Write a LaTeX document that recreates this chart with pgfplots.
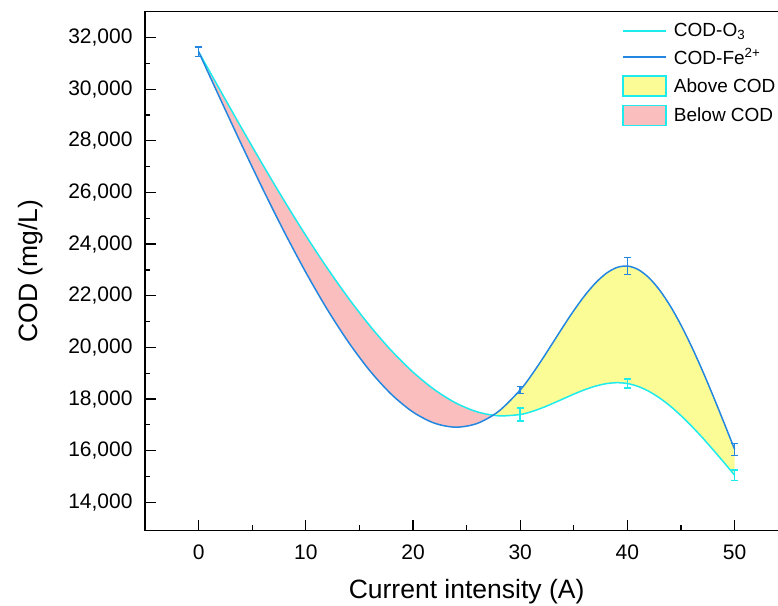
\documentclass[border=0pt]{standalone}
\usepackage{fontspec}
\setmainfont{Liberation Sans}
\usepackage{pgfplots}
\pgfplotsset{compat=1.18}
\usepgfplotslibrary{fillbetween}
\definecolor{o3col}{RGB}{30,235,235}
\definecolor{fecol}{RGB}{35,135,225}
\definecolor{pinkfill}{RGB}{250,190,190}
\definecolor{yellowfill}{RGB}{252,252,150}
\begin{document}
\begin{tikzpicture}
\begin{axis}[
  scale only axis, width=643.2bp, height=519bp,
  xmin=-5, xmax=55, ymin=12900, ymax=33000,
  xtick={0,10,20,30,40,50},
  ytick={14000,16000,18000,20000,22000,24000,26000,28000,30000,32000},
  minor x tick num=1, minor y tick num=1,
  tick align=inside, xtick pos=left, ytick pos=left,
  major tick length=10.7bp, minor tick length=5.3bp,
  axis line style={line width=1.2bp},
  every tick/.style={black, line width=1.2bp},
  scaled y ticks=false,
  /pgf/number format/assume math mode=true,
  yticklabel style={/pgf/number format/1000 sep={,}, inner sep=0pt, anchor=east, xshift=-12.3bp},
  xticklabel style={anchor=base, inner sep=0pt, yshift=-29bp},
  tick label style={font=\fontsize{21bp}{25bp}\selectfont},
  xlabel={Current intensity (A)},
  ylabel={COD (mg/L)},
  every axis x label/.style={at={(axis description cs:0.5,0)}, anchor=base, yshift=-67.8bp,
    font=\fontsize{26.5bp}{32bp}\selectfont},
  every axis y label/.style={at={(axis description cs:-0.1679,0.5)}, rotate=90, anchor=base,
    font=\fontsize{26.5bp}{32bp}\selectfont},
  legend style={at={(0.7416,0.98)}, anchor=north west, draw=none, fill=none,
    inner sep=0pt, column sep=6bp, row sep=8bp,
    font=\fontsize{19bp}{23bp}\selectfont, nodes={inner sep=1bp}},
  legend cell align=left,
]
% hidden paths for the fills
\addplot[draw=none, name path=o3, forget plot, smooth] coordinates {
(0,31450) (2,29968) (4,28501) (6,27064) (8,25670) (10,24334) (12,23071) (14,21896)
(16,20823) (18,19867) (20,19042) (22,18364) (24,17845) (26,17502) (28,17349) (30,17400)
(31,17504) (32,17649) (33,17821) (34,18005) (35,18189) (36,18357) (37,18496) (38,18593) (39,18632) (40,18600)
(41,18487) (42,18298) (43,18040) (44,17724) (45,17356) (46,16946) (47,16502) (48,16032) (49,15545) (50,15050)};
\addplot[draw=none, name path=fe, forget plot, smooth] coordinates {
(0,31450) (2,29641) (4,27857) (6,26123) (8,24464) (10,22906) (12,21472) (14,20190)
(16,19082) (18,18175) (20,17494) (22,17064) (24,16909) (26,17055) (28,17527) (30,18350)
(31,18895) (32,19505) (33,20150) (34,20800) (35,21425) (36,21996) (37,22484) (38,22859) (39,23091) (40,23150)
(41,23016) (42,22700) (43,22222) (44,21603) (45,20863) (46,20021) (47,19099) (48,18116) (49,17093) (50,16050)};
\addplot[fill=pinkfill, draw=none, forget plot] fill between[of=fe and o3, soft clip={domain=-1:27.43}];
\addplot[fill=yellowfill, draw=none, forget plot] fill between[of=fe and o3, soft clip={domain=27.43:51}];
% visible curves
\addplot[draw=o3col, line width=1.5bp, smooth, forget plot] coordinates {
(0,31450) (2,29968) (4,28501) (6,27064) (8,25670) (10,24334) (12,23071) (14,21896)
(16,20823) (18,19867) (20,19042) (22,18364) (24,17845) (26,17502) (28,17349) (30,17400)
(31,17504) (32,17649) (33,17821) (34,18005) (35,18189) (36,18357) (37,18496) (38,18593) (39,18632) (40,18600)
(41,18487) (42,18298) (43,18040) (44,17724) (45,17356) (46,16946) (47,16502) (48,16032) (49,15545) (50,15050)};
\addplot[draw=fecol, line width=1.5bp, smooth, forget plot] coordinates {
(0,31450) (2,29641) (4,27857) (6,26123) (8,24464) (10,22906) (12,21472) (14,20190)
(16,19082) (18,18175) (20,17494) (22,17064) (24,16909) (26,17055) (28,17527) (30,18350)
(31,18895) (32,19505) (33,20150) (34,20800) (35,21425) (36,21996) (37,22484) (38,22859) (39,23091) (40,23150)
(41,23016) (42,22700) (43,22222) (44,21603) (45,20863) (46,20021) (47,19099) (48,18116) (49,17093) (50,16050)};
% error bars
\addplot[draw=none, no markers, forget plot,
  error bars/.cd, y dir=both, y explicit,
  error bar style={draw=o3col, line width=1.5bp},
  error mark options={draw=o3col, rotate=90, mark size=3.5bp, line width=1.5bp}]
  coordinates {(0,31450) +- (0,190) (30,17400) +- (0,260) (40,18600) +- (0,180) (50,15050) +- (0,200)};
\addplot[draw=none, no markers, forget plot,
  error bars/.cd, y dir=both, y explicit,
  error bar style={draw=fecol, line width=1.5bp},
  error mark options={draw=fecol, rotate=90, mark size=3.5bp, line width=1.5bp}]
  coordinates {(0,31450) +- (0,190) (30,18350) +- (0,140) (40,23150) +- (0,330) (50,16050) +- (0,230)};
% legend
\addlegendimage{legend image code/.code={\draw[o3col, line width=1.8bp] (0bp,0bp) -- (43bp,0bp);}}
\addlegendentry{COD-O\textsubscript{3}}
\addlegendimage{legend image code/.code={\draw[fecol, line width=1.8bp] (0bp,0bp) -- (43bp,0bp);}}
\addlegendentry{COD-Fe\textsuperscript{2+}}
\addlegendimage{legend image code/.code={\draw[fill=yellowfill, draw=o3col, line width=1.2bp] (0bp,-10bp) rectangle (43bp,10bp);}}
\addlegendentry{Above COD}
\addlegendimage{legend image code/.code={\draw[fill=pinkfill, draw=o3col, line width=1.2bp] (0bp,-10bp) rectangle (43bp,10bp);}}
\addlegendentry{Below COD}
\end{axis}
\pgfresetboundingbox
\path[use as bounding box] ([xshift=-145bp,yshift=-75.3bp]current axis.south west) rectangle ([xshift=-10.2bp,yshift=11.7bp]current axis.north east);
\end{tikzpicture}
\end{document}
